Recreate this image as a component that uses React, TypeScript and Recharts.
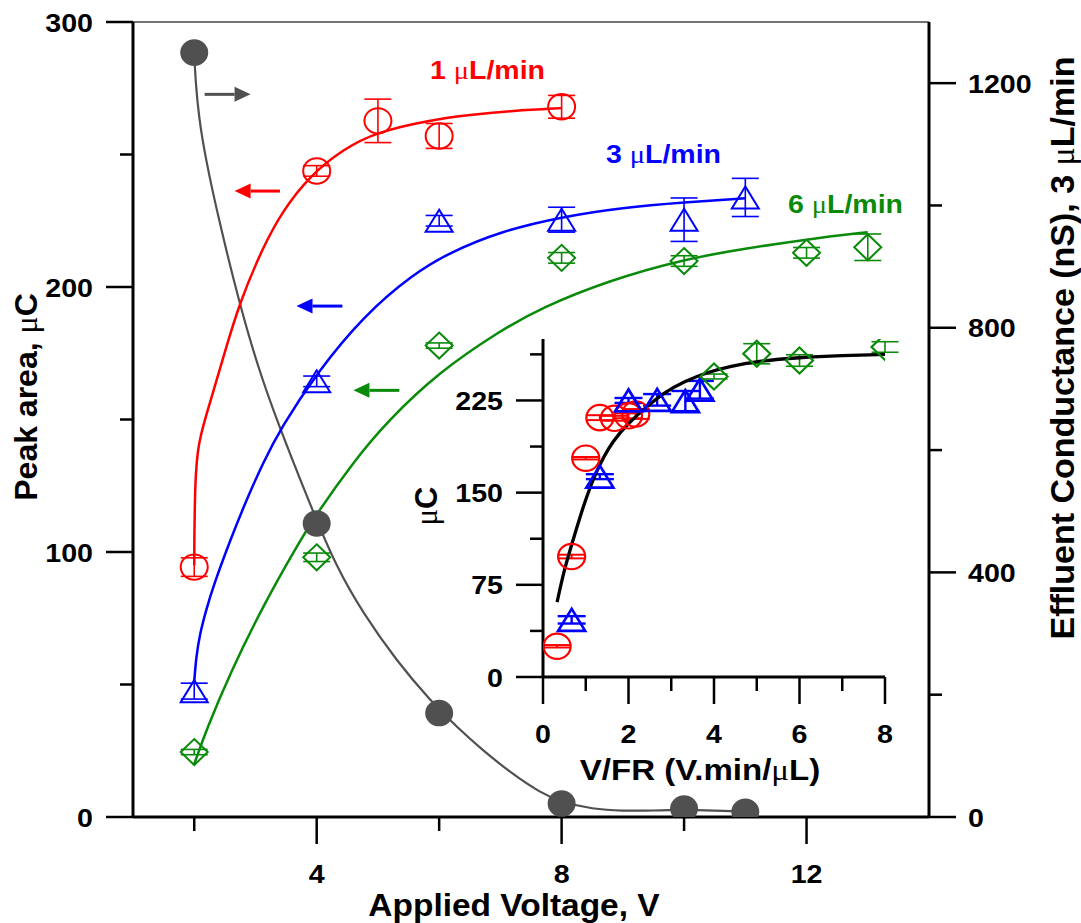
import React from "react";
import { ComposedChart, Line, Scatter, XAxis, YAxis, ErrorBar, ReferenceLine } from "recharts";

const FONT = "'Liberation Sans', Arial, Helvetica, sans-serif";
const MU_FONT = "'Liberation Serif', 'Times New Roman', serif";
const RED = "#ff0000";
const BLUE = "#0000ff";
const GREEN = "#0a8a0a";
const GRAY = "#505050";

// ---- main chart: peak area (left) and conductance (right) vs applied voltage
const flow1V = [2, 4, 5, 6, 8];
const flow1Area = [94.3, 243.8, 262.7, 257, 268];
const flow1Err = [3.5, 2, 8.2, 4.7, 4.3];

const flow3V = [2, 4, 6, 8, 10, 11];
const flow3Area = [47.5, 164.4, 225, 225.4, 225.4, 233.8];
const flow3Err = [3, 2, 2, 4.7, 8.2, 7.2];

const flow6V = [2, 4, 6, 8, 10, 12, 13];
const flow6Area = [24.5, 98, 177.9, 211, 209.8, 212.9, 215];
const flow6Err = [1, 1.6, 1, 2, 2, 2, 5];

const condV = [2, 4, 6, 8, 10, 11];
const condNs = [1250, 480, 170, 22, 13.7, 8.5];

// fitted curves
const fit1X = [2.0, 2.002, 2.01, 2.025, 2.06, 2.1, 2.2, 2.31, 2.5, 2.74, 3.12, 3.45, 3.89, 4.43, 4.98, 5.85, 6.5, 7.2, 8.0];
const fit1Y = [95, 107, 119, 130, 138.5, 143.5, 152, 160.5, 175.5, 194, 215, 229, 242, 252, 258.5, 263, 265, 266.5, 267.5];

const fit3X = [2.0, 2.03, 2.09, 2.2, 2.31, 2.58, 2.85, 3.12, 3.42, 4.0, 4.76, 5.58, 6.17, 7.0, 8.0, 9.0, 10.0, 11.0];
const fit3Y = [51, 60, 69, 78.5, 87, 104, 119.5, 133.5, 147, 167.5, 189, 205, 213, 221, 226.5, 230, 232, 233.5];

const fit6X = [2.0, 2.2, 2.58, 3.12, 3.67, 4.0, 4.6, 5.14, 6.0, 7.0, 7.65, 8.77, 10.0, 11.0, 12.0, 13.0];
const fit6Y = [20, 33, 54, 79.5, 102, 114.5, 134, 149, 168, 183.5, 192, 202.5, 210.5, 214.5, 218, 220.7];

const condFitX = [2.0, 2.02, 2.074, 2.188, 2.405, 2.732, 3.043, 3.343, 3.915, 4.32, 4.758, 5.3, 5.85, 6.3, 6.7, 7.2, 7.65, 8.0, 8.5, 9.0, 9.5, 10.0, 10.5, 11.0];
const condFitY = [1250, 1205, 1145, 1075, 975, 842, 735, 650, 505, 409, 333, 256, 191, 146, 110, 70, 40, 24, 13, 10, 10.5, 12, 10.5, 9];

const voltTicks = [2, 4, 6, 8, 10, 12];
const areaTicks = [0, 50, 100, 150, 200, 250, 300];
const condTicks = [0, 200, 400, 600, 800, 1000, 1200];

// arrows pointing to the matching axis (tail, head, level on left axis)
const arrowFrom = [2.17, 3.4, 4.42, 5.35];
const arrowTo = [2.92, 2.66, 3.67, 4.6];
const arrowAt = [272.7, 236.2, 192.8, 161];
const arrowColor = [GRAY, RED, BLUE, GREEN];

// ---- inset: peak area vs V/FR
const inRedX = [0.33, 0.67, 1.0, 1.33, 1.67, 2.0, 2.17];
const inRedY = [25, 98, 178, 211, 210.5, 212.5, 214];
const inRedErr = [1, 1.5, 1, 2, 2, 2, 4];

const inBlueX = [0.67, 1.33, 2.0, 2.67, 3.33, 3.67];
const inBlueY = [46.5, 163, 225, 225.5, 224.5, 233.7];
const inBlueErr = [3, 2, 2, 4.7, 8.2, 7.2];

const inGreenX = [4, 5, 6, 8];
const inGreenY = [244.5, 263, 257.5, 268.5];
const inGreenErr = [2, 8.2, 4.7, 4.3];

const inFitX = [0.33, 0.5, 0.7, 0.94, 1.25, 1.64, 2.04, 2.43, 2.82, 3.29, 3.91, 4.38, 5.0, 6.0, 7.0, 8.0];
const inFitY = [61, 88, 111, 139, 168.5, 193, 208, 220, 231, 240.5, 248.6, 252.7, 257, 260, 261.5, 262.5];

const vfrTicks = [0, 1, 2, 3, 4, 5, 6, 7, 8];
const insetAreaTicks = [0, 37.5, 75, 112.5, 150, 187.5, 225, 262.5];

const pts = (xs: number[], ys: number[], es?: number[]) =>
  xs.map((x, i) => ({ x, y: ys[i], e: es ? es[i] : 0 }));

const TickLabel = ({ x, y, anchor, children }: any) => (
  <text
    transform={`translate(${x},${y}) scale(1.1,1)`}
    textAnchor={anchor}
    fontFamily={FONT}
    fontWeight="bold"
    fontSize={26}
    fill="#000"
  >
    {children}
  </text>
);

const LeftTick = ({ x, y, payload, every }: any) => {
  const major = payload.value % every === 0;
  return (
    <g>
      <line x1={x - (major ? 27 : 13)} y1={y} x2={x} y2={y} stroke="#000" strokeWidth={2.5} />
      {major && <TickLabel x={x - 40} y={y + 9.5} anchor="end">{payload.value}</TickLabel>}
    </g>
  );
};

const RightTick = ({ x, y, payload, every }: any) => {
  const major = payload.value % every === 0;
  return (
    <g>
      <line x1={x} y1={y} x2={x + (major ? 27 : 13)} y2={y} stroke="#000" strokeWidth={2.5} />
      {major && <TickLabel x={x + 39} y={y + 9.5} anchor="start">{payload.value}</TickLabel>}
    </g>
  );
};

const BottomTick = ({ x, y, payload, every }: any) => {
  const major = payload.value % every === 0;
  return (
    <g>
      <line x1={x} y1={y} x2={x} y2={y + (major ? 27 : 14)} stroke="#000" strokeWidth={2.5} />
      {major && <TickLabel x={x} y={y + 66} anchor="middle">{payload.value}</TickLabel>}
    </g>
  );
};

const OpenCircle = (color: string, sw: number) => (p: any) => (
  <ellipse cx={p.cx} cy={p.cy} rx={13.5} ry={12.7} fill="none" stroke={color} strokeWidth={sw} />
);

const OpenTriangle = (color: string, sw: number) => (p: any) => (
  <polygon
    points={`${p.cx},${p.cy - 11} ${p.cx - 13.5},${p.cy + 11} ${p.cx + 13.5},${p.cy + 11}`}
    fill="none"
    stroke={color}
    strokeWidth={sw}
  />
);

const OpenDiamond = (color: string, sw: number) => (p: any) => (
  <polygon
    points={`${p.cx},${p.cy - 13} ${p.cx + 13.5},${p.cy} ${p.cx},${p.cy + 13} ${p.cx - 13.5},${p.cy}`}
    fill="none"
    stroke={color}
    strokeWidth={sw}
  />
);

const FilledDot = (p: any) => <ellipse cx={p.cx} cy={p.cy} rx={14} ry={13.3} fill={GRAY} />;

const Arrow = ({ x1, y1, x2, y2, color }: any) => {
  const dir = Math.sign(x2 - x1);
  const hx = x2 - dir * 16;
  return (
    <g>
      <line x1={x1} y1={y1} x2={hx} y2={y2} stroke={color} strokeWidth={3} />
      <polygon points={`${x2},${y2} ${hx},${y2 - 7.5} ${hx},${y2 + 7.5}`} fill={color} />
    </g>
  );
};

const Mu = () => (
  <tspan fontFamily={MU_FONT} fontWeight="normal">
    μ
  </tspan>
);

const axisLine = { stroke: "#000", strokeWidth: 3 };

function MainChart() {
  return (
    <ComposedChart width={1081} height={923} margin={{ top: 22, right: 0, bottom: 0, left: 0 }}>
      <XAxis
        type="number"
        dataKey="x"
        domain={[1, 14]}
        ticks={voltTicks}
        interval={0}
        allowDataOverflow
        height={106}
        axisLine={axisLine}
        tickLine={false}
        tickSize={0}
        tickMargin={0}
        tick={(p: any) => <BottomTick {...p} every={4} />}
      />
      <YAxis
        yAxisId="left"
        type="number"
        domain={[0, 300]}
        ticks={areaTicks}
        interval={0}
        allowDataOverflow
        width={133}
        axisLine={axisLine}
        tickLine={false}
        tickSize={0}
        tickMargin={0}
        tick={(p: any) => <LeftTick {...p} every={100} />}
      />
      <YAxis
        yAxisId="right"
        orientation="right"
        type="number"
        domain={[0, 1300]}
        ticks={condTicks}
        interval={0}
        allowDataOverflow
        width={152}
        axisLine={axisLine}
        tickLine={false}
        tickSize={0}
        tickMargin={0}
        tick={(p: any) => <RightTick {...p} every={400} />}
      />
      <ReferenceLine yAxisId="left" y={300} stroke="#444" strokeWidth={1.5} />
      {arrowFrom.map((from, i) => (
        <ReferenceLine
          key={"arrow" + i}
          yAxisId="left"
          segment={[
            { x: from, y: arrowAt[i] },
            { x: arrowTo[i], y: arrowAt[i] },
          ]}
          shape={(p: any) => <Arrow {...p} color={arrowColor[i]} />}
        />
      ))}

      <Line yAxisId="right" data={pts(condFitX, condFitY)} dataKey="y" type="basis" stroke={GRAY} strokeWidth={2.2} dot={false} activeDot={false} isAnimationActive={false} />
      <Line yAxisId="left" data={pts(fit1X, fit1Y)} dataKey="y" type="basis" stroke={RED} strokeWidth={2.5} dot={false} activeDot={false} isAnimationActive={false} />
      <Line yAxisId="left" data={pts(fit3X, fit3Y)} dataKey="y" type="basis" stroke={BLUE} strokeWidth={2.5} dot={false} activeDot={false} isAnimationActive={false} />
      <Line yAxisId="left" data={pts(fit6X, fit6Y)} dataKey="y" type="basis" stroke={GREEN} strokeWidth={2.5} dot={false} activeDot={false} isAnimationActive={false} />

      <Scatter yAxisId="left" data={pts(flow1V, flow1Area, flow1Err)} dataKey="y" shape={OpenCircle(RED, 2)} isAnimationActive={false}>
        <ErrorBar dataKey="e" direction="y" width={13.5} stroke={RED} strokeWidth={1.6} isAnimationActive={false} />
      </Scatter>
      <Scatter yAxisId="left" data={pts(flow3V, flow3Area, flow3Err)} dataKey="y" shape={OpenTriangle(BLUE, 2)} isAnimationActive={false}>
        <ErrorBar dataKey="e" direction="y" width={13.5} stroke={BLUE} strokeWidth={1.6} isAnimationActive={false} />
      </Scatter>
      <Scatter yAxisId="left" data={pts(flow6V, flow6Area, flow6Err)} dataKey="y" shape={OpenDiamond(GREEN, 2)} isAnimationActive={false}>
        <ErrorBar dataKey="e" direction="y" width={13.5} stroke={GREEN} strokeWidth={1.6} isAnimationActive={false} />
      </Scatter>
      <Scatter yAxisId="right" data={pts(condV, condNs)} dataKey="y" shape={FilledDot} isAnimationActive={false} />
    </ComposedChart>
  );
}

function InsetChart() {
  return (
    <ComposedChart width={500} height={470} margin={{ top: 9, right: 15, bottom: 0, left: 0 }}>
      <XAxis
        type="number"
        dataKey="x"
        domain={[0, 8]}
        ticks={vfrTicks}
        interval={0}
        allowDataOverflow
        height={123}
        axisLine={axisLine}
        tickLine={false}
        tickSize={0}
        tickMargin={0}
        tick={(p: any) => <BottomTick {...p} every={2} />}
      />
      <YAxis
        type="number"
        domain={[0, 275]}
        ticks={insetAreaTicks}
        interval={0}
        allowDataOverflow
        width={143}
        axisLine={axisLine}
        tickLine={false}
        tickSize={0}
        tickMargin={0}
        tick={(p: any) => <LeftTick {...p} every={75} />}
      />
      <Scatter data={pts(inRedX, inRedY, inRedErr)} dataKey="y" shape={OpenCircle(RED, 2.2)} isAnimationActive={false}>
        <ErrorBar dataKey="e" direction="y" width={14} stroke={RED} strokeWidth={2} isAnimationActive={false} />
      </Scatter>
      <Scatter data={pts(inBlueX, inBlueY, inBlueErr)} dataKey="y" shape={OpenTriangle(BLUE, 2.7)} isAnimationActive={false}>
        <ErrorBar dataKey="e" direction="y" width={14} stroke={BLUE} strokeWidth={2.4} isAnimationActive={false} />
      </Scatter>
      <Scatter data={pts(inGreenX, inGreenY, inGreenErr)} dataKey="y" shape={OpenDiamond(GREEN, 2.2)} isAnimationActive={false}>
        <ErrorBar dataKey="e" direction="y" width={13.5} stroke={GREEN} strokeWidth={1.6} isAnimationActive={false} />
      </Scatter>
      <Line data={pts(inFitX, inFitY)} dataKey="y" type="basis" stroke="#000" strokeWidth={3.3} dot={false} activeDot={false} isAnimationActive={false} />
    </ComposedChart>
  );
}

const textBase = { fontFamily: FONT, fontWeight: "bold" as const };

export default function App() {
  return (
    <div style={{ position: "absolute", left: 0, top: 0, width: 1081, height: 923, background: "#fff" }}>
      <MainChart />
      <div style={{ position: "absolute", left: 400, top: 330 }}>
        <InsetChart />
      </div>
      <svg width={1081} height={923} style={{ position: "absolute", left: 0, top: 0, pointerEvents: "none" }}>
        <text {...textBase} fontSize={32} textAnchor="middle" transform="translate(37,397) rotate(-90)">
          Peak area, <Mu />C
        </text>
        <text {...textBase} fontSize={34} textAnchor="middle" transform="translate(1074,348) rotate(-90)">
          Effluent Conductance (nS), 3 <Mu />L/min
        </text>
        <text {...textBase} fontSize={31} textAnchor="middle" transform="translate(514,916) scale(1.08,1)">
          Applied Voltage, V
        </text>
        <text {...textBase} fontSize={29} textAnchor="middle" transform="translate(700,780) scale(1.14,1)">
          V/FR (V.min/<Mu />L)
        </text>
        <text {...textBase} fontSize={31} textAnchor="middle" transform="translate(437,506) rotate(-90)">
          <Mu />C
        </text>
        <text {...textBase} fontSize={25} fill={RED} transform="translate(430,79) scale(1.14,1)">
          1 <Mu />L/min
        </text>
        <text {...textBase} fontSize={25} fill={BLUE} transform="translate(606,163) scale(1.14,1)">
          3 <Mu />L/min
        </text>
        <text {...textBase} fontSize={25} fill={GREEN} transform="translate(788,213) scale(1.14,1)">
          6 <Mu />L/min
        </text>
      </svg>
    </div>
  );
}
